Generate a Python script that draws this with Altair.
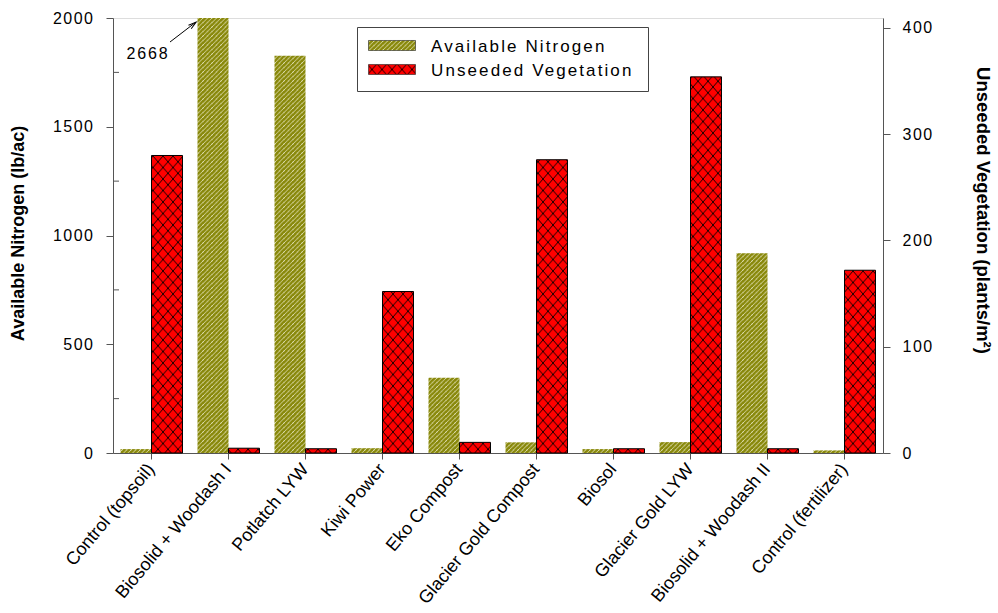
import altair as alt
import pandas as pd
import jinja2

# ---------------- data ----------------
categories = ["Control (topsoil)", "Biosolid + Woodash I", "Potlatch LYW", "Kiwi Power",
              "Eko Compost", "Glacier Gold Compost", "Biosol", "Glacier Gold LYW",
              "Biosolid + Woodash II", "Control (fertilizer)"]
nitrogen = [18, 2668, 1827, 22, 346, 49, 18, 50, 918, 12]          # lb/ac (left axis)
vegetation = [280, 4.5, 4, 152, 10, 276, 4, 354, 4, 172]            # plants/m2 (right axis)
series_names = ["Available Nitrogen", "Unseeded Vegetation"]
left_ticks = [0, 500, 1000, 1500, 2000]
left_minor = [250, 750, 1250, 1750]
right_ticks = [0, 100, 200, 300, 400]
annotation_text = "2668"

df_n = pd.DataFrame({"cat": categories, "value": nitrogen, "series": series_names[0]})
df_v = pd.DataFrame({"cat": categories, "value": vegetation, "series": series_names[1]})
df_minor = pd.DataFrame({"v": left_minor})
df_one = pd.DataFrame({"a": [0]})

FONT = "Liberation Sans"
AX = "#555555"

color_scale = alt.Scale(domain=series_names, range=["url(#hatchN)", "url(#xhatchV)"])

x_enc = alt.X("cat:N", sort=categories, title=None,
              scale=alt.Scale(paddingInner=0, paddingOuter=0),
              axis=alt.Axis(labelAngle=-50, labelFontSize=18, labelFont=FONT, labelColor="black",
                            labelLimit=400, labelPadding=7, tickSize=6, tickColor=AX,
                            domainColor=AX, labelOverlap=False))
xoff_enc = alt.XOffset("series:N", scale=alt.Scale(domain=series_names, paddingInner=0,
                                                     paddingOuter=0.242))

# legend labels are measured at a larger size (to size the box like the reference,
# whose labels are letter-spaced) and drawn at 17px by the page stylesheet
legend = alt.Legend(orient="none", legendX=244, legendY=9, title=None,
                    fillColor="white", strokeColor="#444444", padding=11,
                    symbolType="M-1,-0.2128H1V0.2128H-1Z", symbolSize=2209,
                    symbolStrokeColor="#222222", symbolStrokeWidth=0.6,
                    clipHeight=15, rowPadding=2, labelOffset=15, labelLimit=400,
                    labelFont=FONT, labelFontSize=21.5, labelColor="black")

green = alt.Chart(df_n).mark_bar(clip=True).encode(
    x=x_enc, xOffset=xoff_enc,
    y=alt.Y("value:Q", scale=alt.Scale(domain=[0, 2000], nice=False),
            axis=alt.Axis(title="Available Nitrogen (lb/ac)", values=left_ticks, grid=False,
                          format="d",
                          tickSize=7, tickColor=AX, domainColor=AX, labelPadding=12,
                          labelFont=FONT, labelFontSize=16, labelColor="black",
                          titleFont=FONT, titleFontSize=18, titleFontWeight="bold",
                          titleColor="black", titleAngle=-90, titleX=-95, titleY=215,
                          titleBaseline="middle", titleAlign="center")),
    color=alt.Color("series:N", scale=color_scale, legend=legend),
)

minor = alt.Chart(df_minor).mark_rule(color=AX, clip=False).encode(
    y=alt.Y("v:Q"), x=alt.value(0), x2=alt.value(6)
)

left_layer = alt.layer(green, minor)

red = alt.Chart(df_v).mark_bar(stroke="black", strokeWidth=1).encode(
    x=x_enc, xOffset=xoff_enc,
    y=alt.Y("value:Q", scale=alt.Scale(domain=[0, 409.41], nice=False),
            axis=alt.Axis(title="Unseeded Vegetation (plants/m²)", orient="right",
                          values=right_ticks, grid=False, tickSize=7, tickColor=AX,
                          format="d",
                          domainColor=AX, labelPadding=12, labelFont=FONT, labelFontSize=16,
                          labelColor="black", titleFont=FONT, titleFontSize=18.5,
                          titleFontWeight="bold", titleColor="black", titleAngle=90,
                          titleX=99, titleY=192, titleBaseline="middle", titleAlign="center")),
    color=alt.Color("series:N", scale=color_scale, legend=legend),
)

ann_text = alt.Chart(df_one).mark_text(text=annotation_text, font=FONT, fontSize=16,
                                       align="center", baseline="middle", color="black").encode(
    x=alt.value(35), y=alt.value(36))
ann_line = alt.Chart(df_one).mark_rule(color="black", strokeWidth=1).encode(
    x=alt.value(57), y=alt.value(24), x2=alt.value(82), y2=alt.value(4.8))
ann_head = alt.Chart(df_one).mark_point(shape="M-0.55,1L0,-1L0.55,1", filled=False,
                                        color="black", size=64, angle=52, strokeWidth=1,
                                        opacity=1).encode(
    x=alt.value(80), y=alt.value(6.5))

chart = alt.layer(left_layer, red, ann_line, ann_head, ann_text).resolve_scale(
    y="independent"
).properties(
    width=770, height=435,
    autosize=alt.AutoSizeParams(type="none"),
    padding={"left": 113, "top": 18, "right": 115, "bottom": 160},
).configure_view(stroke=AX, strokeWidth=1).configure(background="white")

TEMPLATE = jinja2.Template("""<!DOCTYPE html>
<html>
<head>
<meta charset="utf-8">
<style>
body { margin: 0; }
#{{ output_div }}.vega-embed { width: 100%; display: flex; }
g[aria-label^="Y-axis"] .role-axis-label text { letter-spacing: 1.5px; }
.role-legend-label text { letter-spacing: 2.1px; font-size: 17px !important; }
.mark-text.role-mark text { letter-spacing: 1.8px; }
</style>
<script type="text/javascript" src="{{ base_url }}/vega@{{ vega_version }}"></script>
<script type="text/javascript" src="{{ base_url }}/vega-lite@{{ vegalite_version }}"></script>
<script type="text/javascript" src="{{ base_url }}/vega-embed@{{ vegaembed_version }}"></script>
</head>
<body>
<svg width="0" height="0" style="position:absolute" aria-hidden="true">
<defs>
<pattern id="hatchN" patternUnits="userSpaceOnUse" width="4.5" height="4.5">
<rect x="0" y="0" width="4.5" height="4.5" fill="#88880a"/>
<path d="M-1,1.25L1.25,-1M0,4.5L4.5,0M3.25,5.5L5.5,3.25" stroke="#eeedcc" stroke-width="0.8"/>
</pattern>
<pattern id="xhatchV" patternUnits="userSpaceOnUse" width="10" height="11.5">
<rect x="0" y="0" width="10" height="11.5" fill="#ff0000"/>
<path d="M0,0L10,11.5M10,0L0,11.5" stroke="#000000" stroke-width="0.9"/>
</pattern>
</defs>
</svg>
<div id="{{ output_div }}"></div>
<script type="text/javascript">
  (function(vegaEmbed) {
    var spec = {{ spec }};
    var embedOpt = {{ embed_options }};
    vegaEmbed("#{{ output_div }}", spec, embedOpt).catch(function(err) {
      document.getElementById("{{ output_div }}").innerHTML = String(err);
    });
  })(vegaEmbed);
</script>
</body>
</html>
""")

chart.save("out.html", embed_options={"renderer": "svg", "actions": False}, template=TEMPLATE)
